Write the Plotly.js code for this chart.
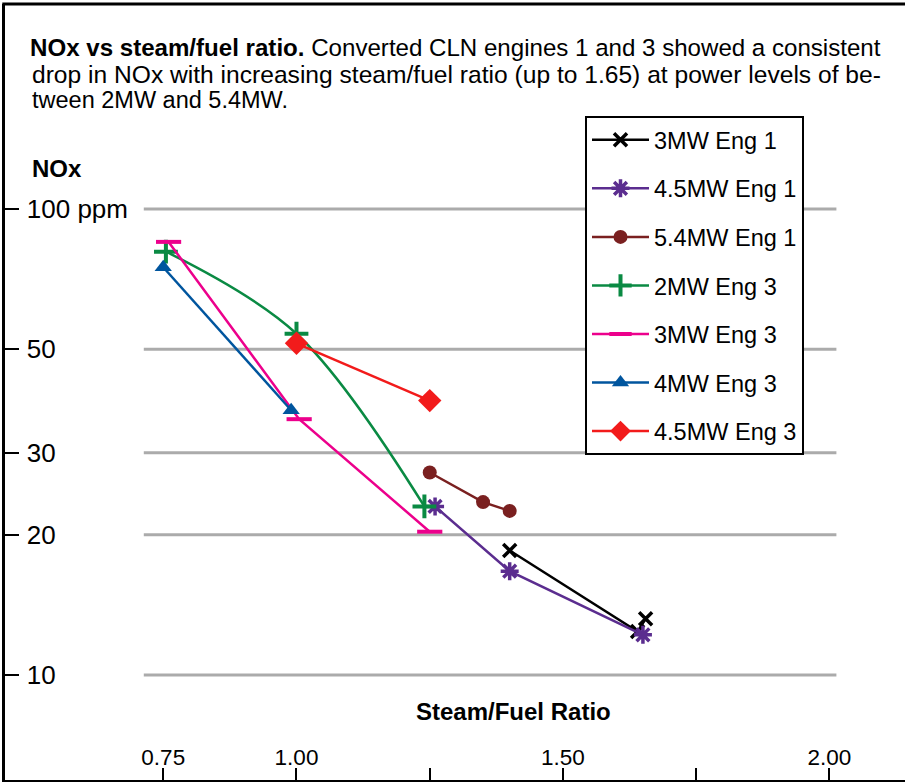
<!DOCTYPE html>
<html>
<head>
<meta charset="utf-8">
<script src="https://cdn.plot.ly/plotly-3.0.1.min.js"></script>
<style>
  html, body { margin: 0; padding: 0; background: #fff; }
  #chart { width: 905px; height: 782px; }
</style>
</head>
<body>
<div id="chart"></div>
<script>
// ---- data ----
const seriesNames = ["3MW Eng 1", "4.5MW Eng 1", "5.4MW Eng 1", "2MW Eng 3", "3MW Eng 3", "4MW Eng 3", "4.5MW Eng 3"];

const eng1_3MW_x = [1.40, 1.64, 1.655];
const eng1_3MW_y = [18.5, 12.4, 13.2];

const eng1_45MW_x = [1.26, 1.40, 1.65];
const eng1_45MW_y = [23.0, 16.7, 12.2];

const eng1_54MW_x = [1.25, 1.35, 1.40];
const eng1_54MW_y = [27.2, 23.5, 22.5];

const eng3_2MW_x = [0.755, 1.00, 1.24];
const eng3_2MW_y = [81, 54, 23.0];

const eng3_3MW_x = [0.76, 1.005, 1.25];
const eng3_3MW_y = [85, 35.4, 20.3];

const eng3_4MW_x = [0.75, 0.99];
const eng3_4MW_y = [75, 37];

const eng3_45MW_x = [1.00, 1.25];
const eng3_45MW_y = [51.5, 38.8];

const xTickVals = [0.75, 1.00, 1.25, 1.50, 1.75, 2.00];
const xTickText = ["0.75", "1.00", "", "1.50", "", "2.00"];
const yTickVals = [10, 20, 30, 50, 100];
const yTickText = ["10", "20", "30", "50", "100 ppm"];

const titleLine1 = "<b>NOx vs steam/fuel ratio.</b> Converted CLN engines 1 and 3 showed a consistent";
const titleLine2 = "drop in NOx with increasing steam/fuel ratio (up to 1.65) at power levels of be-";
const titleLine3 = "tween 2MW and 5.4MW.";

// ---- styling ----
const FONT = "Liberation Sans, Arial, Helvetica, sans-serif";
const colors = {
  black: "#000000",
  purple: "#5b2d8f",
  brown: "#7a2020",
  green: "#0a8a43",
  pink: "#ec008c",
  blue: "#00559e",
  red: "#f21b1b"
};

function mk(name, x, y, color, marker, shape, idx) {
  return {
    type: "scatter", mode: "lines+markers", name: name, x: x, y: y,
    line: { color: color, width: 2.5, shape: shape || "linear" },
    marker: Object.assign({ color: color }, marker),
    legendgroup: "g" + idx,
    hoverinfo: "x+y+name"
  };
}

const traces = [
  mk(seriesNames[0], eng1_3MW_x, eng1_3MW_y, colors.black,
     { symbol: "x-thin", size: 13, line: { color: colors.black, width: 3.5 } }, null, 0),
  mk(seriesNames[1], eng1_45MW_x, eng1_45MW_y, colors.purple,
     { symbol: "asterisk", size: 15, line: { color: colors.purple, width: 3.5 } }, null, 1),
  mk(seriesNames[2], eng1_54MW_x, eng1_54MW_y, colors.brown,
     { symbol: "circle", size: 14 }, null, 2),
  mk(seriesNames[3], eng3_2MW_x, eng3_2MW_y, colors.green,
     { symbol: "cross-thin", size: 17, line: { color: colors.green, width: 4 } }, "spline", 3),
  mk(seriesNames[4], eng3_3MW_x, eng3_3MW_y, colors.pink,
     { symbol: "line-ew", size: 18, line: { color: colors.pink, width: 4 } }, null, 4),
  mk(seriesNames[5], eng3_4MW_x, eng3_4MW_y, colors.blue,
     { symbol: "triangle-up", size: 15 }, null, 5),
  mk(seriesNames[6], eng3_45MW_x, eng3_45MW_y, colors.red,
     { symbol: "diamond", size: 18 }, null, 6)
];

// gridlines spanning only the central band, like the reference
const gridShapes = yTickVals.map(v => ({
  type: "line", xref: "x", yref: "y", layer: "below",
  x0: 0.7135, x1: 2.013, y0: v, y1: v,
  line: { color: "#ababab", width: 3 }
}));

function textLine(txt, yPx, size) {
  return { text: txt, xref: "paper", yref: "paper",
    x: (30 - 5) / 900, xanchor: "left", y: 1 - (yPx - 4) / 776, yanchor: "middle",
    showarrow: false, align: "left", font: { family: FONT, size: size, color: "#000" } };
}

const layout = {
  width: 905, height: 782,
  margin: { l: 5, r: 0, t: 4, b: 2, pad: 0 },
  paper_bgcolor: "#ffffff", plot_bgcolor: "#ffffff",
  font: { family: FONT, color: "#000", size: 20 },
  showlegend: true,
  title: {
    text: titleLine1,
    x: 30 / 905, xanchor: "left", xref: "container",
    y: 1 - 48 / 782, yanchor: "middle", yref: "container",
    font: { family: FONT, size: 24.1, color: "#000" }
  },
  xaxis: {
    type: "linear", range: [0.4531, 2.1417], fixedrange: true,
    showgrid: false, zeroline: false,
    showline: true, linecolor: "#000", linewidth: 3,
    ticks: "inside", ticklen: 12, tickwidth: 2, tickcolor: "#000",
    ticklabelposition: "inside", ticklabelstandoff: 0,
    tickmode: "array", tickvals: xTickVals, ticktext: xTickText,
    tickfont: { family: FONT, size: 22.5, color: "#000" }
  },
  yaxis: {
    type: "log", range: [0.7747, 2.4399], fixedrange: true,
    showgrid: false, zeroline: false,
    showline: true, linecolor: "#000", linewidth: 3,
    ticks: "inside", ticklen: 14, tickwidth: 2, tickcolor: "#000",
    ticklabelposition: "inside", ticklabelstandoff: 10,
    tickmode: "array", tickvals: yTickVals, ticktext: yTickText,
    tickfont: { family: FONT, size: 26, color: "#000" }
  },
  legend: {
    x: (585 - 5) / 900, xanchor: "left",
    y: 1 - (116 - 4) / 776, yanchor: "top",
    bgcolor: "#ffffff", bordercolor: "#000", borderwidth: 2,
    font: { family: FONT, size: 23.5, color: "#000" },
    traceorder: "grouped", tracegroupgap: 15,
    itemwidth: 57
  },
  shapes: gridShapes.concat([
    { type: "line", xref: "paper", yref: "paper", x0: -0.003, x1: 1, y0: 1, y1: 1,
      line: { color: "#000", width: 3 } }
  ]),
  annotations: [
    textLine(titleLine2, 74, 24.6),
    textLine(titleLine3, 100, 23.5),
    { text: "<b>NOx</b>", xref: "paper", yref: "paper",
      x: (30 - 5) / 900, xanchor: "left", y: 1 - (168 - 4) / 776, yanchor: "middle",
      showarrow: false, font: { family: FONT, size: 24, color: "#000" } },
    { text: "<b>Steam/Fuel Ratio</b>", xref: "paper", yref: "paper",
      x: (513 - 5) / 900, xanchor: "center", y: 1 - (711 - 4) / 776, yanchor: "middle",
      showarrow: false, font: { family: FONT, size: 24, color: "#000" } }
  ]
};

Plotly.newPlot("chart", traces, layout, { displayModeBar: false, staticPlot: true });
</script>
</body>
</html>
